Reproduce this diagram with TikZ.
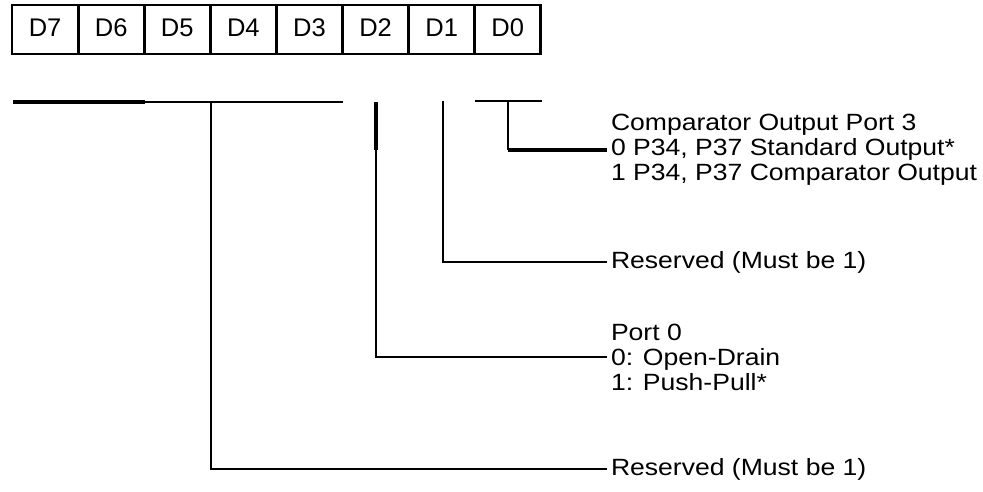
\documentclass[tikz,border=0pt]{standalone}
\usepackage{fontspec}
\setmainfont{Liberation Sans}
\newfontfamily\descfont{Liberation Sans}[FakeStretch=1.13]
\usetikzlibrary{positioning}

\begin{document}
\begin{tikzpicture}[x=1pt, y=-1pt,
    bitcell/.style={draw, line width=2.8pt, minimum width=66.1pt, minimum height=49pt, outer sep=0pt, inner sep=0pt, text height=18.3pt, text depth=4pt, font=\fontsize{25.5}{30}\selectfont},
    desc/.style={anchor=west, align=left, inner sep=0pt, outer sep=4pt, font=\descfont\fontsize{23.5}{25}\selectfont},
    thinline/.style={line width=1.6pt},
    thickline/.style={line width=3.2pt}]
    \useasboundingbox (0,0) rectangle (983,491);
    % register bits
    \node[bitcell] (d7) at (45.05, 29.5) {D7};
    \node[bitcell, right=0pt of d7] (d6) {D6};
    \node[bitcell, right=0pt of d6] (d5) {D5};
    \node[bitcell, right=0pt of d5] (d4) {D4};
    \node[bitcell, right=0pt of d4] (d3) {D3};
    \node[bitcell, right=0pt of d3] (d2) {D2};
    \node[bitcell, right=0pt of d2] (d1) {D1};
    \node[bitcell, right=0pt of d1] (d0) {D0};
    % descriptions
    \node[desc] (cmp) at (607, 150) {Comparator Output Port 3\\0 P34, P37 Standard Output*\\1 P34, P37 Comparator Output};
    \node[desc] (res1) at (607, 262) {Reserved (Must be 1)};
    \node[desc] (port0) at (607, 357) {Port 0\\0: Open-Drain\\1: Push-Pull*};
    \node[desc] (res7) at (607, 469) {Reserved (Must be 1)};
    % D7 - D3
    \coordinate (g7l) at (13, 102);
    \coordinate (g7m) at (145, 102);
    \coordinate (g7r) at (343, 102);
    \coordinate (g7t) at (211, 102);
    \draw [thickline] (g7l) to (g7m);
    \draw [thinline] (g7m) to (g7r);
    \draw [thinline] (g7t) |- (res7.west);
    % D2
    \coordinate (g2t) at (376, 102);
    \coordinate (g2k) at (376, 150);
    \draw [thickline] (g2t) to (g2k);
    \draw [thinline] (g2k) |- (port0.west);
    % D1
    \coordinate (g1t) at (443, 101);
    \draw [thinline] (g1t) |- (res1.west);
    % D0
    \coordinate (g0l) at (475, 101);
    \coordinate (g0r) at (542, 101);
    \coordinate (g0t) at (508, 101);
    \draw [thinline] (g0l) to (g0r);
    \draw [thinline] (g0t) to (g0t |- cmp.west);
    \draw [thickline] (g0t |- cmp.west) to (cmp.west);
\end{tikzpicture}
\end{document}
